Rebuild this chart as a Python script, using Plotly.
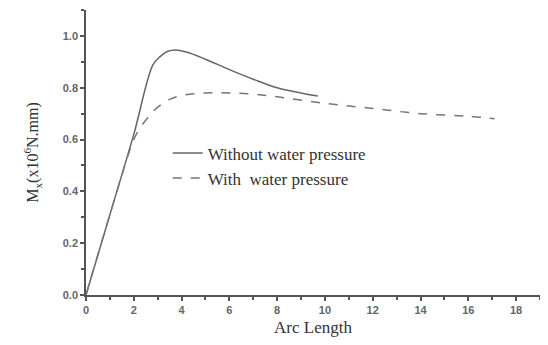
import plotly.graph_objects as go

# Without water pressure
x_without = [0, 1.0, 2.0, 2.8, 3.1, 3.4, 3.75, 4.2, 5.0, 6.0, 7.0, 8.0, 9.0, 9.7]
y_without = [0, 0.31, 0.62, 0.888, 0.92, 0.94, 0.946, 0.938, 0.91, 0.87, 0.833, 0.80, 0.78, 0.768]

# With water pressure
x_with = [0, 1.0, 2.0, 2.3, 2.6, 3.0, 3.5, 4.0, 5.0, 6.0, 7.0, 8.0, 10.0, 12.0, 14.0, 16.0, 17.1]
y_with = [0, 0.31, 0.60, 0.65, 0.685, 0.725, 0.755, 0.77, 0.78, 0.78, 0.775, 0.765, 0.74, 0.72, 0.70, 0.69, 0.68]

x_ticks = [0, 2, 4, 6, 8, 10, 12, 14, 16, 18]
y_ticks = [0.0, 0.2, 0.4, 0.6, 0.8, 1.0]

grey = "#555555"

fig = go.Figure()
fig.add_trace(go.Scatter(x=x_without, y=y_without, mode="lines", line_shape="spline",
                         name="Without water pressure",
                         line=dict(color="#666666", width=1.5)))
fig.add_trace(go.Scatter(x=x_with, y=y_with, mode="lines", line_shape="spline",
                         name="With  water pressure",
                         line=dict(color="#777777", width=1.5, dash="dash")))

axis_common = dict(showgrid=False, zeroline=False, showline=True, linecolor=grey, linewidth=1.5,
                   ticks="outside", tickcolor=grey, ticklen=4, tickwidth=1.5, automargin=False,
                   tickfont=dict(family="Arial, Liberation Sans", size=11, color="#666666", weight="bold"))

fig.update_xaxes(range=[0, 19], tickvals=x_ticks, ticktext=[str(t) for t in x_ticks],
                 minor=dict(dtick=1, ticks="outside", ticklen=3, tickcolor=grey),
                 title=dict(text="Arc Length", standoff=6,
                            font=dict(family="Liberation Serif, Times New Roman", size=17, color="#333333")),
                 **axis_common)
fig.update_yaxes(range=[0, 1.1], tickvals=y_ticks, ticktext=["%.1f" % t for t in y_ticks],
                 minor=dict(dtick=0.1, ticks="outside", ticklen=3, tickcolor=grey),
                 title=dict(text="M<sub>x</sub>(x10<sup>6</sup>N.mm)", standoff=20,
                            font=dict(family="Liberation Serif, Times New Roman", size=16, color="#333333")),
                 **axis_common)

# page body has an 8px margin, so the figure is sized/offset to compensate
fig.update_layout(
    width=540, height=337,
    margin=dict(l=78, r=8, t=2, b=50),
    plot_bgcolor="white", paper_bgcolor="white",
    showlegend=True,
    legend=dict(x=0.18, y=0.56, xanchor="left", yanchor="top",
                bgcolor="rgba(0,0,0,0)", tracegroupgap=0,
                font=dict(family="Liberation Serif, Times New Roman", size=17, color="#333333")),
)

fig.write_html("out.html")
